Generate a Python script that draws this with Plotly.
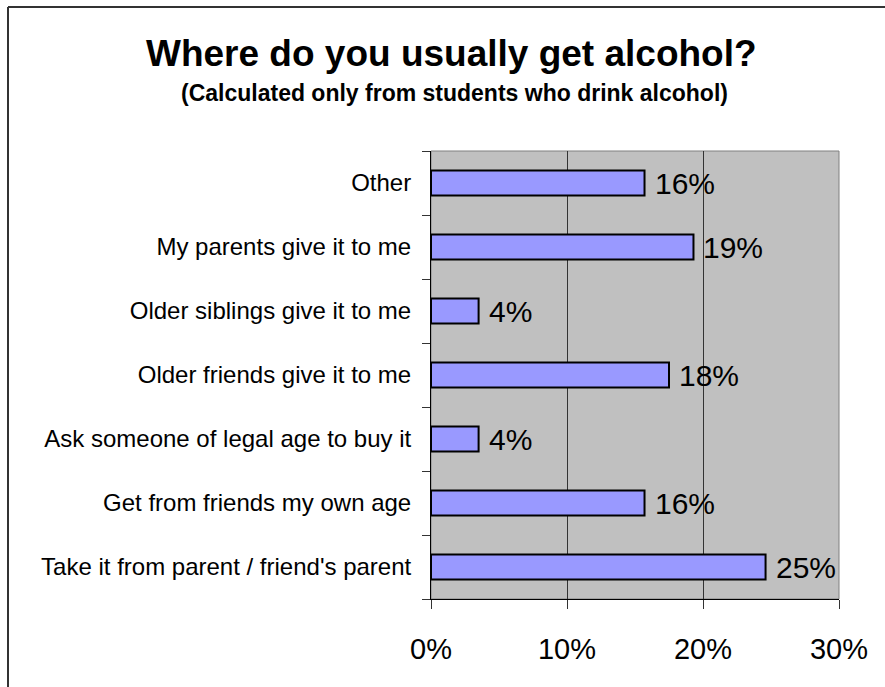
import plotly.graph_objects as go

categories = [
    "Take it from parent / friend's parent",
    "Get from friends my own age",
    "Ask someone of legal age to buy it",
    "Older friends give it to me",
    "Older siblings give it to me",
    "My parents give it to me",
    "Other",
]
values = [0.246, 0.157, 0.035, 0.175, 0.035, 0.193, 0.157]
value_labels = ["25%", "16%", "4%", "18%", "4%", "19%", "16%"]
x_ticks = [0, 0.1, 0.2, 0.3]
x_tick_labels = ["0%", "10%", "20%", "30%"]

title_text = "Where do you usually get alcohol?"
subtitle_text = "(Calculated only from students who drink alcohol)"

W, H = 885, 687
ML, MR, MT, MB = 431, 46, 151, 88
PW, PH = W - ML - MR, H - MT - MB
FONT = "Liberation Sans, Arial, sans-serif"


def px_to_paper_x(px):
    return (px - ML) / PW


def px_to_paper_y(py):
    return (H - MB - py) / PH


fig = go.Figure()
fig.add_trace(go.Bar(
    y=categories,
    x=values,
    orientation="h",
    width=0.39,
    marker=dict(color="#9999FF", line=dict(color="#000000", width=2)),
    hoverinfo="skip",
))

annotations = []
for cat, v, lab in zip(categories, values, value_labels):
    annotations.append(dict(
        x=v, y=cat, xref="x", yref="y", text=lab, showarrow=False,
        xanchor="left", yanchor="middle", xshift=8,
        font=dict(family=FONT, size=30, color="#000000"),
    ))

annotations.append(dict(
    x=px_to_paper_x(451), y=px_to_paper_y(53), xref="paper", yref="paper",
    text="<b>" + title_text + "</b>", showarrow=False,
    xanchor="center", yanchor="middle",
    font=dict(family=FONT, size=37, color="#000000"),
))
annotations.append(dict(
    x=px_to_paper_x(454), y=px_to_paper_y(93), xref="paper", yref="paper",
    text="<b>" + subtitle_text + "</b>", showarrow=False,
    xanchor="center", yanchor="middle",
    font=dict(family=FONT, size=23, color="#000000"),
))

shapes = [
    # outer frame (top and left edges of the slide border)
    dict(type="line", xref="paper", yref="paper",
         x0=px_to_paper_x(8), x1=px_to_paper_x(890),
         y0=px_to_paper_y(7), y1=px_to_paper_y(7),
         line=dict(color="#333333", width=2)),
    dict(type="line", xref="paper", yref="paper",
         x0=px_to_paper_x(8), x1=px_to_paper_x(8),
         y0=px_to_paper_y(7), y1=px_to_paper_y(690),
         line=dict(color="#333333", width=2)),
    # plot area border (gray)
    dict(type="rect", xref="paper", yref="paper", x0=0, x1=1, y0=0, y1=1,
         line=dict(color="#808080", width=1), layer="below"),
]

fig.update_layout(
    width=W, height=H,
    margin=dict(l=ML, r=MR, t=MT, b=MB, pad=0),
    paper_bgcolor="#FFFFFF",
    plot_bgcolor="#C0C0C0",
    showlegend=False,
    annotations=annotations,
    shapes=shapes,
    xaxis=dict(
        range=[0, 0.3],
        tickvals=x_ticks,
        ticktext=x_tick_labels,
        showgrid=True, gridcolor="#333333", gridwidth=1,
        zeroline=False,
        showline=True, linecolor="#000000", linewidth=1,
        ticks="outside", ticklen=9, tickcolor="#333333",
        ticklabelstandoff=15,
        tickfont=dict(family=FONT, size=29, color="#000000"),
        fixedrange=True,
    ),
    yaxis=dict(
        categoryorder="array", categoryarray=categories,
        showgrid=False,
        showline=True, linecolor="#000000", linewidth=1,
        ticks="outside", ticklen=8, tickcolor="#333333",
        tickson="boundaries",
        ticklabelstandoff=14,
        tickfont=dict(family=FONT, size=24, color="#000000"),
        fixedrange=True,
    ),
)

fig.write_html(
    "out.html",
    config={"displayModeBar": False},
    post_script="document.body.style.margin='0';document.body.style.overflow='hidden';",
)
